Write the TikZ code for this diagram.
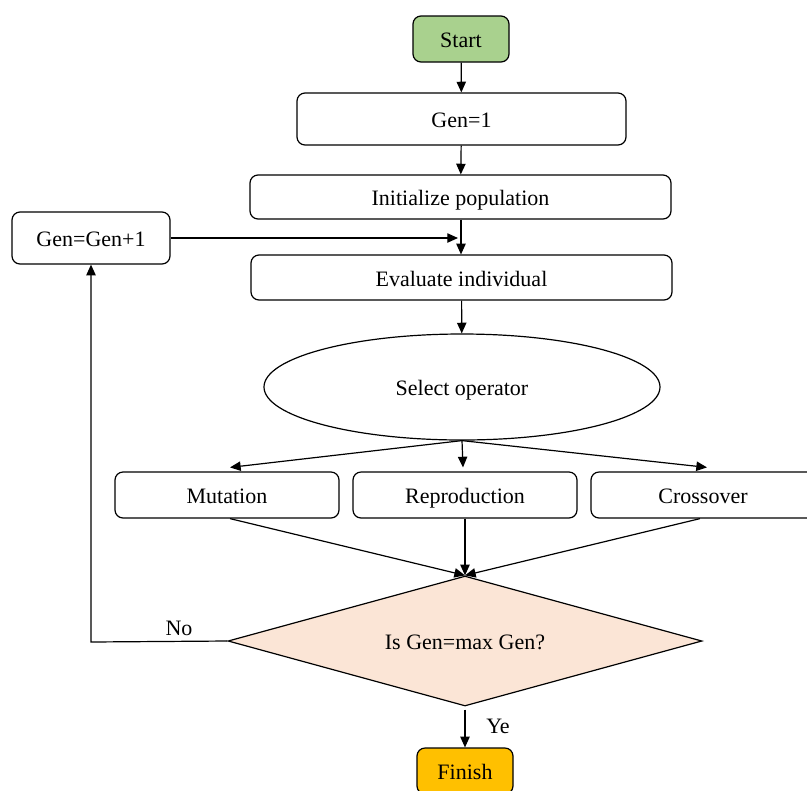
\documentclass[tikz,border=0pt]{standalone}
\usepackage{fontspec}
\setmainfont{Liberation Serif}
\usetikzlibrary{arrows.meta, positioning, calc, shapes.geometric}
\definecolor{startg}{HTML}{A9D18E}
\definecolor{finy}{HTML}{FFC000}
\definecolor{decp}{HTML}{FBE5D6}
\tikzset{
  txt/.style={font=\fontsize{16.5}{19}\selectfont, text height=13pt, text depth=0pt},
  box/.style={txt, draw, line width=0.9pt, rounded corners=6pt, inner sep=0pt},
  term/.style={box, minimum width=72pt, minimum height=34.5pt},
  sel/.style={txt, ellipse, draw, line width=0.9pt, minimum width=297pt, minimum height=79.5pt, inner sep=0pt},
  dec/.style={txt, diamond, draw, line width=0.9pt, fill=decp, shape aspect=3.65, minimum width=355.5pt, minimum height=97.5pt, inner sep=0pt},
  tra/.style={-{Triangle[width=7pt, length=8pt]}, line width=0.9pt},
  tlab/.style={txt, inner sep=0pt}
}

\begin{document}
\begin{tikzpicture}[x=0.75pt, y=-0.75pt]
		\useasboundingbox (0,0) rectangle (807,790);
		\clip (0,0) rectangle (807,790);
		\node[term, fill=startg] (start) at (461,39) {Start};
		\node[box, minimum width=246.75pt, minimum height=39pt] (gen) at (461.5,119) {Gen=1};
		\node[box, minimum width=315.75pt, minimum height=33pt] (init) at (460.5,197) {Initialize population};
		\node[box, minimum width=118.5pt, minimum height=39pt] (inc) at (91,238) {Gen=Gen+1};
		\node[box, minimum width=315.75pt, minimum height=33.75pt] (eval) at (461.5,277.5) {Evaluate individual};
		\node[sel] (op) at (462,387) {Select operator};
		\node[box, minimum width=168pt, minimum height=34.5pt] (mut) at (227,495) {Mutation};
		\node[box, minimum width=168pt, minimum height=34.5pt] (rep) at (465,495) {Reproduction};
		\node[box, minimum width=168pt, minimum height=34.5pt] (cro) at (703,495) {Crossover};
		\node[dec] (chk) at (465,641) {Is Gen=max Gen?};
		\node[term, fill=finy] (fin) at (465,771) {Finish};
		\coordinate (join) at (461,238);
		\coordinate (turn) at (91,642);
		\draw[tra] (start) -- (gen);
		\draw[tra] (gen) -- (init);
		\draw[tra] (init.south -| join) -- (eval.north -| join);
		\draw[tra] (inc) -- ($(join)+(-3,0)$);
		\draw[tra] (eval) -- (op);
		\draw[tra] (op.south) -- ($(mut.north)+(3,-4)$);
		\draw[tra] (op.south) -- ($(rep.north)+(-2,-4)$);
		\draw[tra] (op.south) -- ($(cro.north)+(4,-4)$);
		\draw[tra] ($(mut.south)+(3,0)$) -- (chk.north);
		\draw[tra] (rep) -- (chk.north);
		\draw[tra] ($(cro.south)+(-3,0)$) -- (chk.north);
		\draw[tra] (chk.west) -- (turn) -- (inc.south);
		\draw[tra] ($(chk.south)+(0,3)$) -- (fin);
		\node[tlab] (no) at (179,627) {No};
		\node[tlab] (yes) at (498,725) {Ye};
	\end{tikzpicture}
\end{document}
